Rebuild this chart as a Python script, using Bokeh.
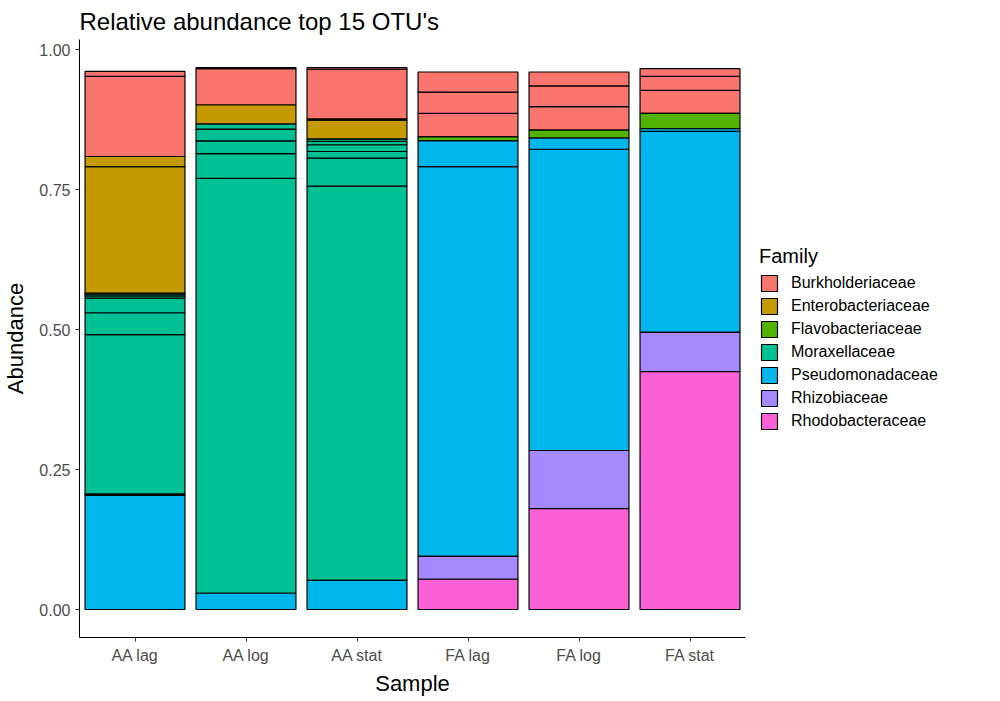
from bokeh.plotting import figure
from bokeh.models import ColumnDataSource, Legend, LegendItem, Range1d
from bokeh.embed import file_html
from bokeh.resources import INLINE

samples = ["AA lag", "AA log", "AA stat", "FA lag", "FA log", "FA stat"]
families = ["Burkholderiaceae", "Enterobacteriaceae", "Flavobacteriaceae", "Moraxellaceae",
            "Pseudomonadaceae", "Rhizobiaceae", "Rhodobacteraceae"]
colors = ["#F8766D", "#C49A00", "#53B400", "#00C094", "#00B6EB", "#A58AFF", "#FB61D7"]

# segments per sample, bottom to top: (family, abundance)
aa_lag = [("Pseudomonadaceae", 0.204), ("Pseudomonadaceae", 0.002), ("Moraxellaceae", 0.285),
          ("Moraxellaceae", 0.039), ("Moraxellaceae", 0.026), ("Moraxellaceae", 0.004),
          ("Moraxellaceae", 0.003), ("Enterobacteriaceae", 0.002), ("Enterobacteriaceae", 0.226),
          ("Enterobacteriaceae", 0.018), ("Burkholderiaceae", 0.143), ("Burkholderiaceae", 0.009)]
aa_log = [("Pseudomonadaceae", 0.029), ("Moraxellaceae", 0.741), ("Moraxellaceae", 0.044),
          ("Moraxellaceae", 0.023), ("Moraxellaceae", 0.021), ("Moraxellaceae", 0.009),
          ("Enterobacteriaceae", 0.034), ("Burkholderiaceae", 0.065), ("Burkholderiaceae", 0.002)]
aa_stat = [("Pseudomonadaceae", 0.052), ("Moraxellaceae", 0.704), ("Moraxellaceae", 0.050),
           ("Moraxellaceae", 0.012), ("Moraxellaceae", 0.012), ("Moraxellaceae", 0.006),
           ("Moraxellaceae", 0.004), ("Enterobacteriaceae", 0.034), ("Enterobacteriaceae", 0.002),
           ("Burkholderiaceae", 0.089), ("Burkholderiaceae", 0.003)]
fa_lag = [("Rhodobacteraceae", 0.054), ("Rhizobiaceae", 0.041), ("Pseudomonadaceae", 0.696),
          ("Pseudomonadaceae", 0.046), ("Flavobacteriaceae", 0.007), ("Burkholderiaceae", 0.042),
          ("Burkholderiaceae", 0.038), ("Burkholderiaceae", 0.036)]
fa_log = [("Rhodobacteraceae", 0.180), ("Rhizobiaceae", 0.104), ("Pseudomonadaceae", 0.538),
          ("Pseudomonadaceae", 0.020), ("Flavobacteriaceae", 0.014), ("Burkholderiaceae", 0.042),
          ("Burkholderiaceae", 0.037), ("Burkholderiaceae", 0.025)]
fa_stat = [("Rhodobacteraceae", 0.425), ("Rhizobiaceae", 0.070), ("Pseudomonadaceae", 0.359),
           ("Pseudomonadaceae", 0.005), ("Flavobacteriaceae", 0.027), ("Burkholderiaceae", 0.041),
           ("Burkholderiaceae", 0.025), ("Burkholderiaceae", 0.014)]
segments = [aa_lag, aa_log, aa_stat, fa_lag, fa_log, fa_stat]

FONT = "Liberation Sans"

p = figure(x_range=samples, y_range=Range1d(-0.05, 1.018), frame_width=666, frame_height=598,
           output_backend="svg", toolbar_location=None,
           min_border_left=72, min_border_right=10, min_border_top=34, min_border_bottom=58)
p.title.text = "Relative abundance top 15 OTU's"
p.title.text_font = FONT
p.title.text_font_size = "24px"
p.title.text_font_style = "normal"
p.title.text_color = "black"

data = {f: dict(x=[], bottom=[], top=[]) for f in families}
for s, segs in zip(samples, segments):
    base = 0.0
    for fam, v in segs:
        data[fam]["x"].append(s)
        data[fam]["bottom"].append(base)
        data[fam]["top"].append(base + v)
        base += v

items = []
for fam, col in zip(families, colors):
    r = p.vbar(x="x", bottom="bottom", top="top", width=0.9, source=ColumnDataSource(data[fam]),
               fill_color=col, line_color="black", line_width=1.2)
    items.append(LegendItem(label=fam, renderers=[r]))

legend = Legend(items=items, title="Family", location="center_left")
legend.title_text_font = FONT
legend.title_text_font_size = "20px"
legend.title_text_font_style = "normal"
legend.title_text_color = "black"
legend.label_text_font = FONT
legend.label_text_font_size = "16px"
legend.label_text_color = "black"
legend.glyph_width = 20
legend.glyph_height = 20
legend.spacing = 3
legend.border_line_color = None
legend.label_standoff = 12
legend.margin = 14
p.add_layout(legend, "right")

p.xgrid.grid_line_color = None
p.ygrid.grid_line_color = None
p.outline_line_color = None
p.yaxis.ticker = [0, 0.25, 0.5, 0.75, 1.0]
p.yaxis.major_label_overrides = {0: "0.00", 0.25: "0.25", 0.5: "0.50", 0.75: "0.75", 1.0: "1.00"}
for ax in (p.xaxis, p.yaxis):
    ax.axis_line_color = "black"
    ax.major_tick_line_color = "#333333"
    ax.minor_tick_line_color = None
    ax.major_tick_in = 0
    ax.major_tick_out = 4
    ax.major_label_text_font = FONT
    ax.major_label_text_font_size = "16px"
    ax.major_label_text_color = "#4D4D4D"
    ax.axis_label_text_font = FONT
    ax.axis_label_text_font_size = "22px"
    ax.axis_label_text_font_style = "normal"
    ax.axis_label_text_color = "black"
p.xaxis.axis_label = "Sample"
p.yaxis.axis_label = "Abundance"
p.xaxis.axis_label_standoff = 4
p.yaxis.axis_label_standoff = 8

open("out.html", "w").write(file_html(p, INLINE))
